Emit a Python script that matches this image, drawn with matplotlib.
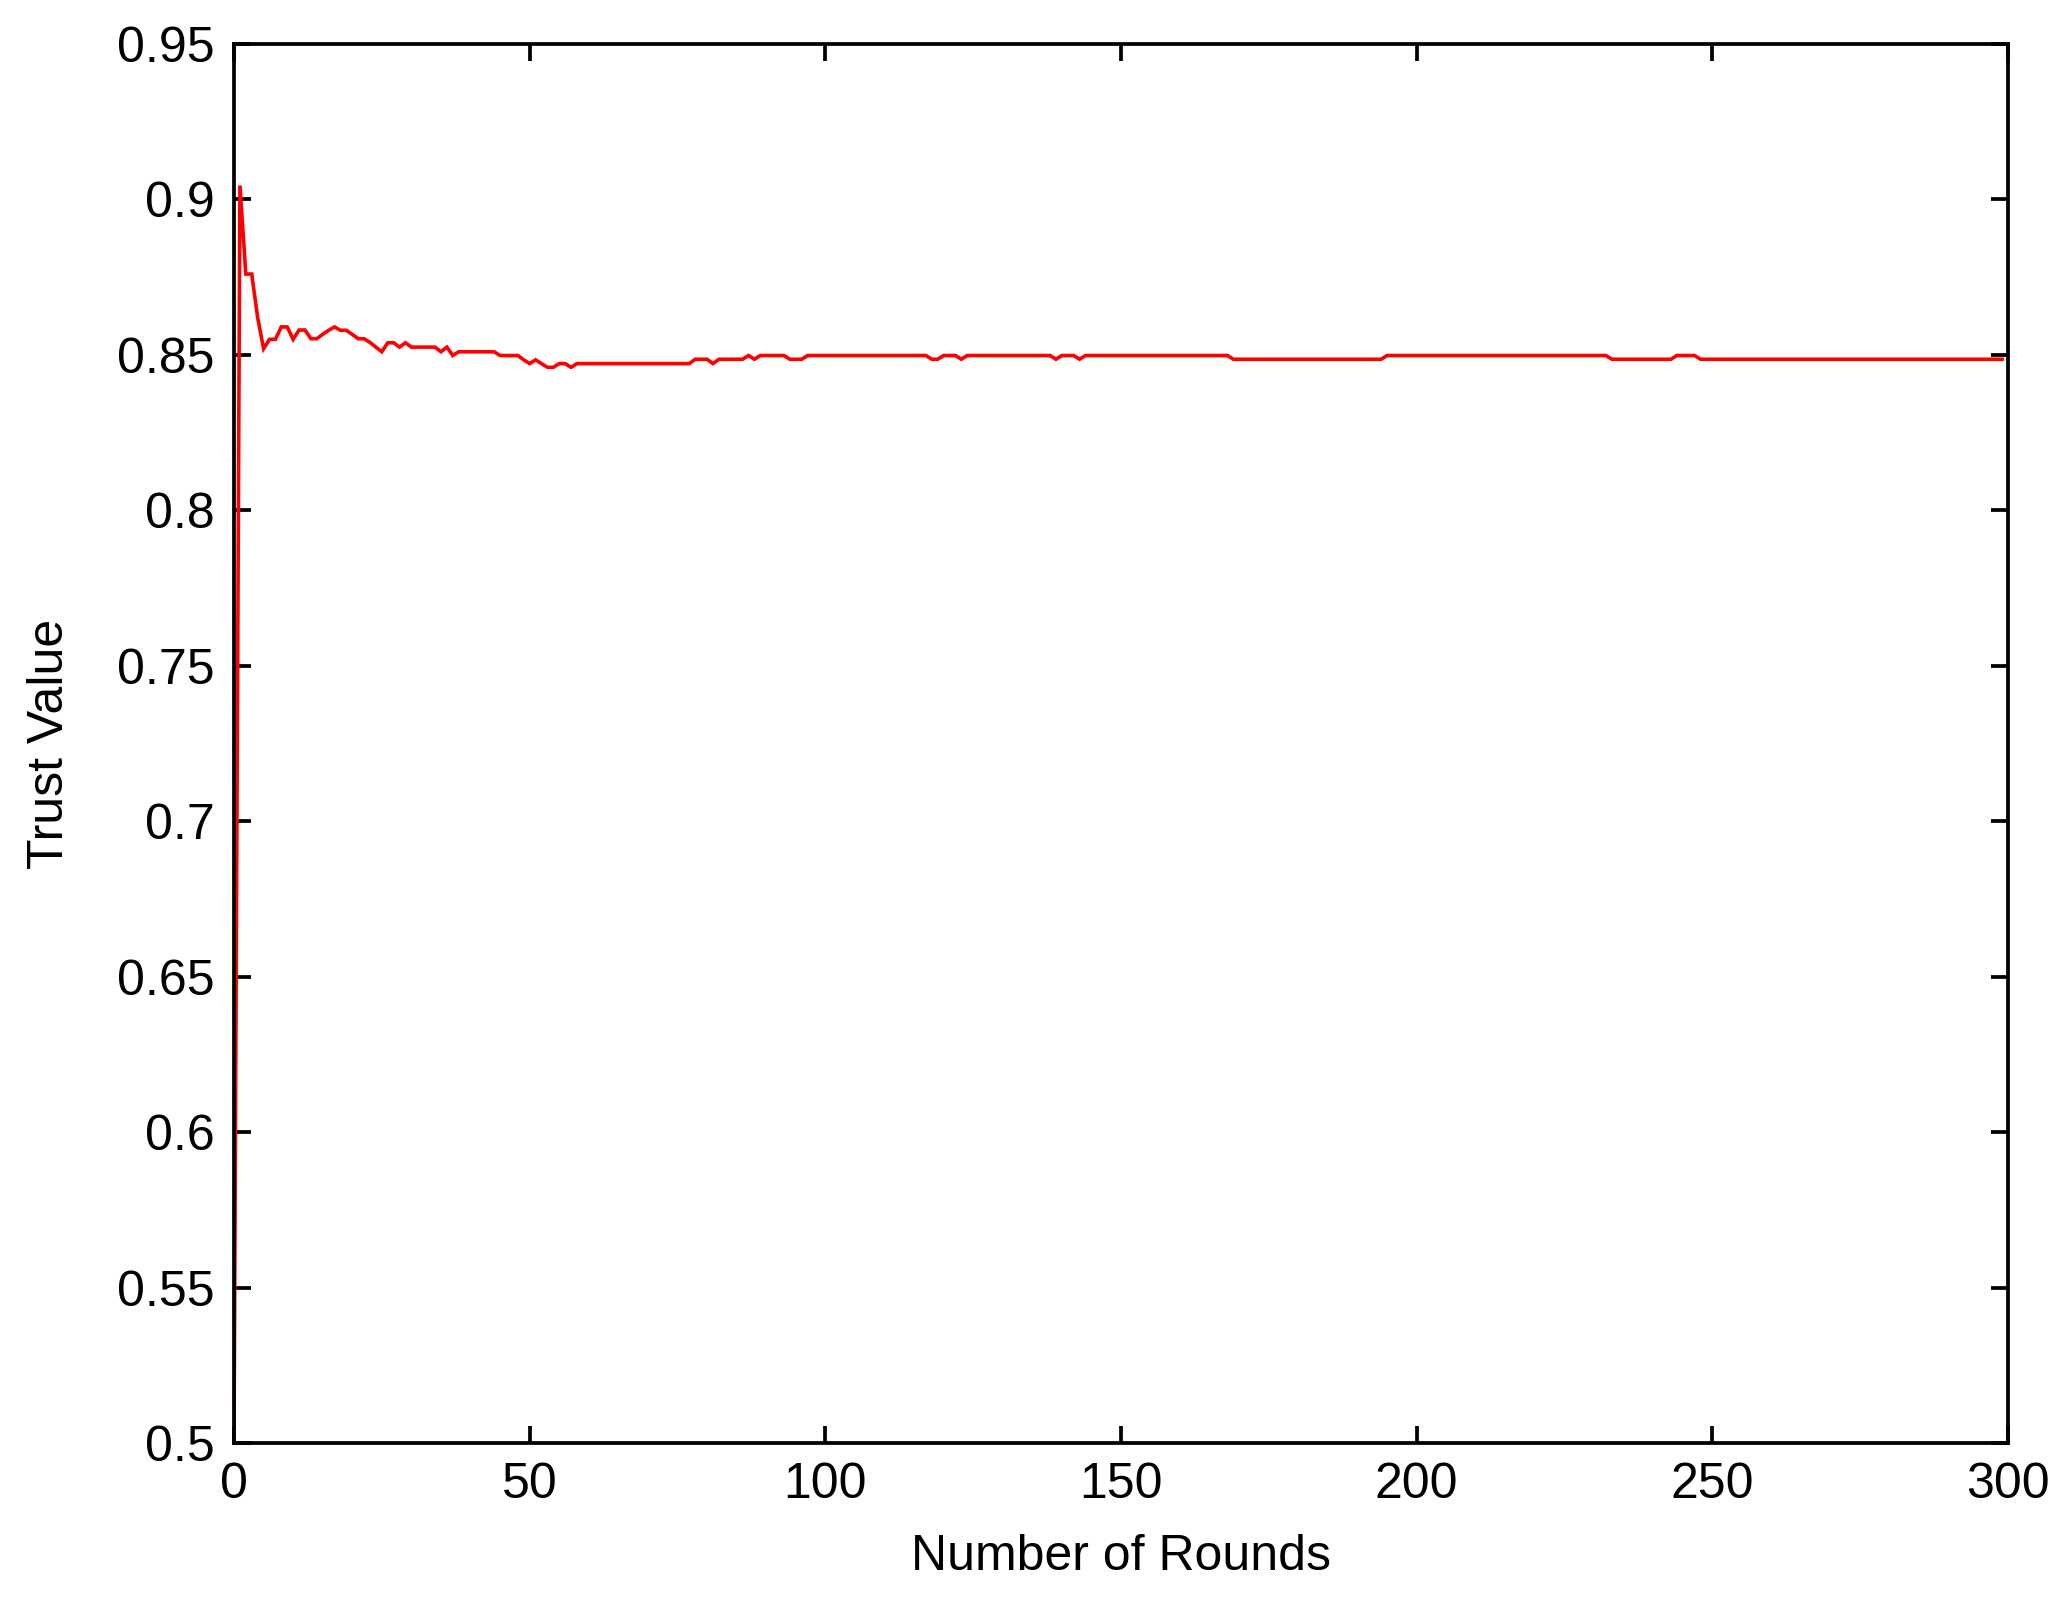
import matplotlib
matplotlib.use("Agg")
import matplotlib.pyplot as plt

plt.rcParams['font.family'] = ['Liberation Sans', 'DejaVu Sans']

# Data (round, trust value)
rounds = [0, 1, 2, 3, 4, 5, 6, 7, 8, 9, 10, 11, 12, 13, 14, 15, 16, 17, 18, 19,
          20, 21, 22, 23, 24, 25, 26, 27, 28, 29, 30, 34, 35, 36, 37, 38, 44,
          45, 48, 49, 50, 51, 52, 53, 54, 55, 56, 57, 58, 77, 78, 80, 81, 82,
          86, 87, 88, 89, 93, 94, 96, 97, 117, 118, 119, 120, 122, 123, 124,
          138, 139, 140, 142, 143, 144, 168, 169, 194, 195, 232, 233, 243, 244,
          247, 248, 299]
trust = [0.500, 0.9045, 0.876, 0.876, 0.862, 0.852, 0.855, 0.855, 0.859, 0.859,
         0.855, 0.858, 0.858, 0.8552, 0.8552, 0.8566, 0.8579, 0.859, 0.8579,
         0.8579, 0.8566, 0.8552, 0.8552, 0.854, 0.8525, 0.851, 0.8539, 0.8539,
         0.8525, 0.8539, 0.8525, 0.8525, 0.851, 0.8525, 0.8498, 0.851, 0.851,
         0.8498, 0.8498, 0.8484, 0.8472, 0.8484, 0.8472, 0.846, 0.846, 0.8472,
         0.8472, 0.846, 0.8472, 0.8472, 0.8486, 0.8486, 0.8472, 0.8486,
         0.8486, 0.8498, 0.8486, 0.8498, 0.8498, 0.8486, 0.8486, 0.8498,
         0.8498, 0.8486, 0.8486, 0.8498, 0.8498, 0.8486, 0.8498,
         0.8498, 0.8486, 0.8498, 0.8498, 0.8486, 0.8498, 0.8498, 0.8486,
         0.8486, 0.8498, 0.8498, 0.8486, 0.8486, 0.8498, 0.8498, 0.8486, 0.8486]

xticks = [0, 50, 100, 150, 200, 250, 300]
yticks = [0.5, 0.55, 0.6, 0.65, 0.7, 0.75, 0.8, 0.85, 0.9, 0.95]
ytick_labels = ['0.5', '0.55', '0.6', '0.65', '0.7', '0.75', '0.8', '0.85', '0.9', '0.95']

fig = plt.figure(figsize=(20.65, 16.04), dpi=100)
ax = fig.add_axes([234/2065, 1 - 1443/1604, (2008-234)/2065, (1443-44)/1604])

ax.plot(rounds, trust, color='#ff0000', linewidth=2.6, solid_joinstyle='miter')

ax.set_xlim(0, 300)
ax.set_ylim(0.5, 0.95)
ax.set_xticks(xticks)
ax.set_xticklabels([str(t) for t in xticks])
ax.set_yticks(yticks)
ax.set_yticklabels(ytick_labels)

for s in ax.spines.values():
    s.set_linewidth(2.7)
    s.set_color('black')
ax.tick_params(direction='in', length=12, width=2.7, labelsize=36,
               top=True, right=True, colors='black')
ax.tick_params(axis='x', pad=14)
ax.tick_params(axis='y', pad=14)

ax.set_xlabel('Number of Rounds', fontsize=36, va='center')
ax.xaxis.set_label_coords(0.5, (1443 - 1557) / 1399)
ax.set_ylabel('Trust Value', fontsize=36, va='center', ha='center')
ax.yaxis.set_label_coords((50 - 234) / 1774, 0.5)

fig.savefig('out.png', dpi=100, facecolor='white')
